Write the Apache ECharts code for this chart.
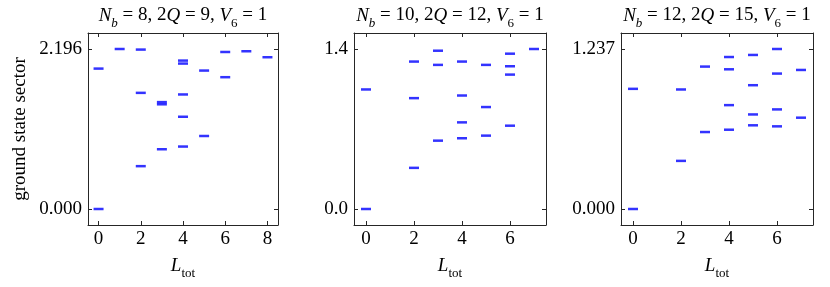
<!DOCTYPE html>
<html><head><meta charset="utf-8">
<script src="https://cdn.jsdelivr.net/npm/echarts@6/dist/echarts.min.js"></script>
<style>html,body{margin:0;padding:0;background:#fff}#c{width:830px;height:287px}</style>
</head><body><div id="c"></div>
<script>
// ---- data ----
const lTot1   = [0, 0,     1,     2,     2,     2,     3,     3,     3,     4,     4,     4,     4,     4,     5,     5,     6,     6,     7,     8];
const energy1 = [0, 1.927, 2.196, 2.188, 1.594, 0.588, 1.467, 1.437, 0.820, 2.037, 1.996, 1.572, 1.266, 0.857, 1.900, 1.002, 2.155, 1.809, 2.165, 2.083];

const lTot2   = [0, 0,     2,     2,     2,     3,     3,     3,     4,     4,     4,     4,     5,     5,     5,     6,     6,     6,     6,     7];
const energy2 = [0, 1.046, 1.290, 0.970, 0.360, 1.385, 1.261, 0.598, 1.290, 0.993, 0.758, 0.619, 1.261, 0.892, 0.642, 1.359, 1.249, 1.176, 0.729, 1.400];

const lTot3   = [0, 0,     2,     2,     3,     3,     4,     4,     4,     4,     5,     5,     5,     5,     6,     6,     6,     6,     7,     7];
const energy3 = [0, 0.929, 0.924, 0.372, 1.101, 0.595, 1.175, 1.080, 0.803, 0.613, 1.191, 0.957, 0.731, 0.647, 1.237, 1.047, 0.770, 0.639, 1.075, 0.706];

const xTicks1 = [0, 2, 4, 6, 8];
const xTicks2 = [0, 2, 4, 6];
const xTicks3 = [0, 2, 4, 6];
const yTicks1 = [0, 2.196];  const yTickLabels1 = ['0.000', '2.196'];
const yTicks2 = [0, 1.4];    const yTickLabels2 = ['0.0', '1.4'];
const yTicks3 = [0, 1.237];  const yTickLabels3 = ['0.000', '1.237'];
const xMax = [8.5, 7.5, 7.5];
const titles = [['8', '9'], ['10', '12'], ['12', '15']];
const yLabel = 'ground state sector';

// ---- chart ----
const SERIF = 'Liberation Serif';
const C = '#262626';
const grids = [
  {left: 88, top: 33, width: 190, height: 192, outerBoundsMode: 'none'},
  {left: 354, top: 33, width: 192, height: 192, outerBoundsMode: 'none'},
  {left: 621, top: 33, width: 192, height: 192, outerBoundsMode: 'none'}
];
const xTicks = [xTicks1, xTicks2, xTicks3];
const yTicks = [yTicks1, yTicks2, yTicks3];
const yLabels = [yTickLabels1, yTickLabels2, yTickLabels3];
const data = [[lTot1, energy1], [lTot2, energy2], [lTot3, energy3]];

const rich = {
  i: {fontFamily: SERIF, fontStyle: 'italic', fontSize: 19, lineHeight: 19, padding: [0, 0, 5, 0], verticalAlign: 'bottom', color: '#000'},
  r: {fontFamily: SERIF, fontSize: 19, lineHeight: 19, padding: [0, 0, 5, 0], verticalAlign: 'bottom', color: '#000'},
  si: {fontFamily: SERIF, fontStyle: 'italic', fontSize: 13, lineHeight: 13, verticalAlign: 'bottom', color: '#000'},
  sr: {fontFamily: SERIF, fontSize: 13, lineHeight: 13, verticalAlign: 'bottom', color: '#000'}
};

function titleText(t) {
  return '{i|N}{si|b}{r| = ' + t[0] + ', 2}{i|Q}{r| = ' + t[1] + ', }{i|V}{sr|6}{r| = 1}';
}

const xAxis = [], yAxis = [], series = [];
function yr(t) { const m = t[t.length - 1]; return [-0.1 * m, 1.1 * m]; }
const line = {show: true, onZero: false, lineStyle: {color: C, width: 1}};
for (let k = 0; k < 3; k++) {
  const [ymin, ymax] = yr(yTicks[k]);
  xAxis.push({
    type: 'value', gridIndex: k, min: -0.5, max: xMax[k], position: 'bottom',
    axisLine: line, splitLine: {show: false},
    axisTick: {show: true, inside: true, length: 4, lineStyle: {color: C}, customValues: xTicks[k]},
    axisLabel: {show: true, margin: 5, fontFamily: SERIF, fontSize: 19, color: '#000', customValues: xTicks[k]},
    name: '{i|L}{sr|tot}', nameLocation: 'middle', nameGap: 36,
    nameTextStyle: {rich: rich}
  });
  yAxis.push({
    type: 'value', gridIndex: k, min: ymin, max: ymax, position: 'left',
    axisLine: line, splitLine: {show: false},
    axisTick: {show: true, inside: true, length: 4, lineStyle: {color: C}, customValues: yTicks[k]},
    axisLabel: {show: true, margin: 6, fontFamily: SERIF, fontSize: 19, color: '#000', customValues: yTicks[k],
      formatter: (function (kk) { return function (v) {
        for (let j = 0; j < yTicks[kk].length; j++) if (Math.abs(yTicks[kk][j] - v) < 1e-9) return yLabels[kk][j];
        return ''; }; })(k)},
    name: k === 0 ? yLabel : '', nameLocation: 'middle', nameGap: 58,
    nameTextStyle: {fontFamily: SERIF, fontSize: 19, color: '#000'}
  });
  series.push({
    type: 'scatter', xAxisIndex: k, yAxisIndex: k,
    symbol: 'rect', symbolSize: [10, 2.5],
    itemStyle: {color: '#0000ff'},
    data: data[k][0].map((L, j) => [L, data[k][1][j]]),
    silent: true
  });
}
for (let k = 0; k < 3; k++) {
  const [ymin, ymax] = yr(yTicks[k]);
  xAxis.push({
    type: 'value', gridIndex: k, min: -0.5, max: xMax[k], position: 'top',
    axisLine: line, splitLine: {show: false}, axisLabel: {show: false},
    axisTick: {show: true, inside: true, length: 4, lineStyle: {color: C}, customValues: xTicks[k]},
    name: titleText(titles[k]), nameLocation: 'middle', nameGap: 3,
    nameTextStyle: {rich: rich}
  });
  yAxis.push({
    type: 'value', gridIndex: k, min: ymin, max: ymax, position: 'right',
    axisLine: line, splitLine: {show: false}, axisLabel: {show: false},
    axisTick: {show: true, inside: true, length: 4, lineStyle: {color: C}, customValues: yTicks[k]}
  });
}

const chart = echarts.init(document.getElementById('c'), null, {renderer: 'canvas'});
chart.setOption({
  animation: false,
  backgroundColor: '#fff',
  grid: grids,
  xAxis: xAxis,
  yAxis: yAxis,
  series: series
});
</script></body></html>
